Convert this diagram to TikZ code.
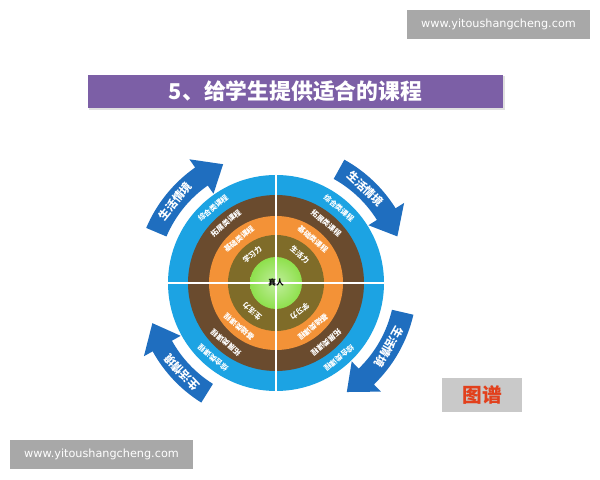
\documentclass[tikz,border=0pt]{standalone}
\usepackage{fontspec}
\newfontfamily\cjk{Noto Sans CJK SC}
\newfontfamily\webfont{DejaVu Sans}
\usetikzlibrary{positioning}
\definecolor{ringblue}{HTML}{1CA3E3}
\definecolor{ringbrown}{HTML}{6A4B2E}
\definecolor{ringorange}{HTML}{F39237}
\definecolor{ringolive}{HTML}{7F6C29}
\definecolor{ringgreen}{HTML}{8EE04C}
\definecolor{arrowblue}{HTML}{1F6EBF}
\definecolor{titlepurple}{HTML}{7C5FA6}
\definecolor{markgray}{HTML}{A8A8A8}
\definecolor{tabgray}{HTML}{C9C9C9}
\definecolor{tabred}{HTML}{E2401C}
\tikzset{
  ringtext/.style={text=white, inner sep=0pt, font=\cjk\bfseries\fontsize{5.2}{5.2}\selectfont},
  arrowtext/.style={text=white, inner sep=0pt, font=\cjk\bfseries\fontsize{8}{8}\selectfont},
  watermark/.style={fill=markgray, text=white, minimum width=4.575cm, minimum height=0.725cm,
    inner sep=0pt, font=\webfont\fontsize{8}{8}\selectfont},
}
\begin{document}
\begin{tikzpicture}[x=0.025cm, y=0.025cm]
  \useasboundingbox (0,0) rectangle (600,480);
  \fill[white] (0,0) rectangle (600,480);
  % watermarks
  \node[watermark] (markTop) at (498.5,455.5) {www.yitoushangcheng.com};
  \node[watermark] (markBottom) at (101.5,25.5) {www.yitoushangcheng.com};
  % title
  \fill[black!12] (89,370) rectangle (505,404);
  \node[fill=titlepurple, text=white, minimum width=10.375cm, minimum height=0.825cm,
    inner sep=0pt, font=\cjk\bfseries\fontsize{15.5}{15.5}\selectfont]
    (title) at (295.5,388.5) {5、给学生提供适合的课程};
  % tab
  \node[fill=tabgray, text=tabred, minimum width=2cm, minimum height=0.85cm,
    inner sep=0pt, font=\cjk\bfseries\fontsize{14}{14}\selectfont]
    (tab) at (482,85) {图谱};
  \begin{scope}[shift={(276,197)}]
    \coordinate (O) at (0,0);
    \fill[ringblue] (O) circle[radius=108];
    \fill[ringbrown] (O) circle[radius=88];
    \fill[ringorange] (O) circle[radius=67];
    \fill[ringolive] (O) circle[radius=48];
    \shade[inner color=ringgreen!55!white, outer color=ringgreen] (O) circle[radius=26];
    \draw[white, line width=0.9pt] (-108,0) -- (108,0);
    \draw[white, line width=0.9pt] (0,-108) -- (0,108);
    \node[inner sep=0pt, font=\cjk\bfseries\fontsize{5.5}{5.5}\selectfont] (core) at (O) {真人};
    % ring labels
    \foreach \a/\s [count=\i] in {130/学习力, 50/生活力, -50/学习力, -130/生活力} {
      \node[ringtext, rotate=\a-90] (blue\i) at (\a:98) {综合类课程};
      \node[ringtext, rotate=\a-90] (brown\i) at (\a:78) {拓展类课程};
      \node[ringtext, rotate=\a-90] (orange\i) at (\a:57.5) {基础类课程};
      \node[ringtext, rotate=\a-90] (olive\i) at (\a:37) {\s};
    }
    % curved arrows
    \foreach \t/\b/\h [count=\i] in {157/125/114, 61/32/21, -13/-46/-57, -122/-151/-162} {
      \fill[arrowblue] (\t:141) arc[start angle=\t, end angle=\b, radius=141]
        -- (\b:151) -- (\h:130) -- (\b:109) -- (\b:119)
        arc[start angle=\b, end angle=\t, radius=119] -- cycle;
      \node[arrowtext, rotate=(\t+\b)/2-90] (flow\i) at ({(\t+\b)/2}:130) {生活情境};
    }
  \end{scope}
\end{tikzpicture}
\end{document}
